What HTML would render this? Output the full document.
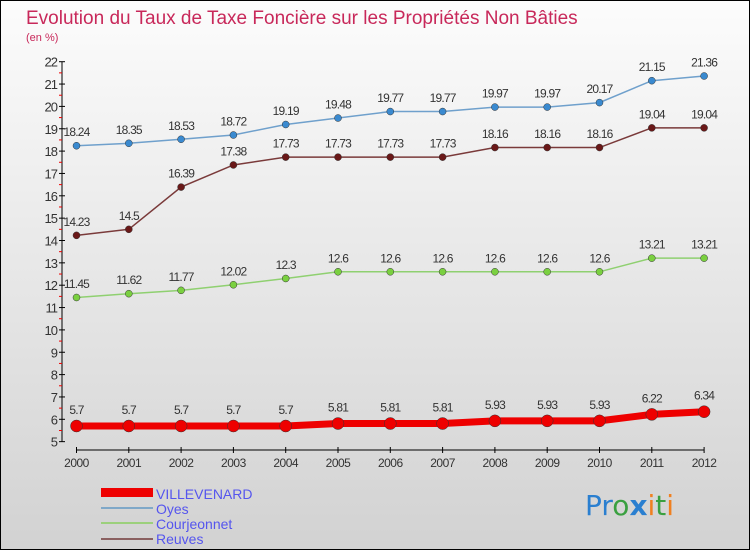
<!DOCTYPE html>
<html><head><meta charset="utf-8"><style>
body{margin:0;}
#wrap{position:relative;width:748px;height:548px;border:1px solid #000;background:linear-gradient(#fcfcfc,#d2d2d2);font-family:"Liberation Sans",sans-serif;overflow:hidden}
</style></head><body>
<div id="wrap">
<svg id="svg" width="748" height="548" style="position:absolute;left:0;top:0">
<text x="25" y="23" font-size="19" fill="#c8285a">Evolution du Taux de Taxe Foncière sur les Propriétés Non Bâties</text>
<text x="25" y="40" font-size="11" fill="#c8285a">(en %)</text>
<g id="axes"></g><g id="series"></g>
<g>
<rect x="100" y="487" width="52" height="9" fill="#e00"/>
<text x="155" y="498" font-size="14" fill="#5555ee">VILLEVENARD</text>
<rect x="100" y="506" width="52" height="2" fill="#7fa8c8"/>
<text x="155" y="513" font-size="14" fill="#5555ee">Oyes</text>
<rect x="100" y="521" width="52" height="2" fill="#9cd07c"/>
<text x="155" y="528" font-size="14" fill="#5555ee">Courjeonnet</text>
<rect x="100" y="537" width="52" height="2" fill="#8a6060"/>
<text x="155" y="543" font-size="14" fill="#5555ee">Reuves</text>
</g>
<text x="584" y="514" font-size="28" font-family="'DejaVu Sans',sans-serif"><tspan fill="#2a7fd0">Pr</tspan><tspan fill="#3aa040">o</tspan><tspan fill="#2a7fd0" font-weight="bold">x</tspan><tspan fill="#f08020">i</tspan><tspan fill="#3aa040">t</tspan><tspan fill="#f08020">i</tspan></text>
</svg>
</div>
<script>
const years=[2000,2001,2002,2003,2004,2005,2006,2007,2008,2009,2010,2011,2012];
const villevenard=[5.7,5.7,5.7,5.7,5.7,5.81,5.81,5.81,5.93,5.93,5.93,6.22,6.34];
const oyes=[18.24,18.35,18.53,18.72,19.19,19.48,19.77,19.77,19.97,19.97,20.17,21.15,21.36];
const courjeonnet=[11.45,11.62,11.77,12.02,12.3,12.6,12.6,12.6,12.6,12.6,12.6,13.21,13.21];
const reuves=[14.23,14.5,16.39,17.38,17.73,17.73,17.73,17.73,18.16,18.16,18.16,19.04,19.04];
const yTicks=[5,6,7,8,9,10,11,12,13,14,15,16,17,18,19,20,21,22];
const NS="http://www.w3.org/2000/svg";
const X=i=>75.5+i*52.3;
const Y=v=>60.7+(22-v)*22.35;
function mk(tag,attrs,parent){const e=document.createElementNS(NS,tag);for(const k in attrs)e.setAttribute(k,attrs[k]);parent.appendChild(e);return e;}
const ax=document.getElementById('axes');
let yl=mk('line',{x1:61,y1:Y(22),x2:61,y2:Y(5),stroke:'#000'},ax);


yTicks.forEach(v=>{
 mk('line',{x1:58,x2:64,y1:Y(v),y2:Y(v),stroke:'#000'},ax);
 if(v<22)mk('line',{x1:58,x2:61,y1:Y(v+0.5),y2:Y(v+0.5),stroke:'#e00'},ax);
 const t=mk('text',{x:56,y:Y(v)+5,'font-size':13,'text-anchor':'end',fill:'#333','letter-spacing':'-1'},ax);
 t.textContent=v;
 
 
});
let xl=mk('line',{x1:X(0),x2:X(12),y1:449,y2:449,stroke:'#000'},ax);


years.forEach((y,i)=>{
 mk('line',{x1:X(i),x2:X(i),y1:446,y2:452,stroke:'#000'},ax);
 const t=mk('text',{x:X(i),y:466,'font-size':12,'text-anchor':'middle',fill:'#333','letter-spacing':'-0.5'},ax);
 t.textContent=y;
 
 
});
const sg=document.getElementById('series');
function series(name,data,color,dot,w,r){
 const g=mk('g',{},sg);
 
 
 const p=mk('polyline',{points:data.map((v,i)=>X(i)+','+Y(v)).join(' '),fill:'none',stroke:color,'stroke-width':w},g);
 
 
 data.forEach((v,i)=>{
  const c=mk('circle',{cx:X(i),cy:Y(v),r:r,fill:dot,stroke:'#333','stroke-width':0.5},g);
  
  
  const t=mk('text',{x:X(i),y:Y(v)-(r+6),'font-size':12,'text-anchor':'middle',fill:'#333','letter-spacing':'-0.8'},g);
  t.textContent=v;
  
  
 });
}
series('oyes',oyes,'#6fa0cc','#3a8ad0',1.5,3.5);
series('courjeonnet',courjeonnet,'#8fd070','#7ad040',1.5,3.5);
series('reuves',reuves,'#7a3a3a','#6a1818',1.5,3.5);
series('villevenard',villevenard,'#ee0000','#ee0000',7,6);
</script>
</body></html>
